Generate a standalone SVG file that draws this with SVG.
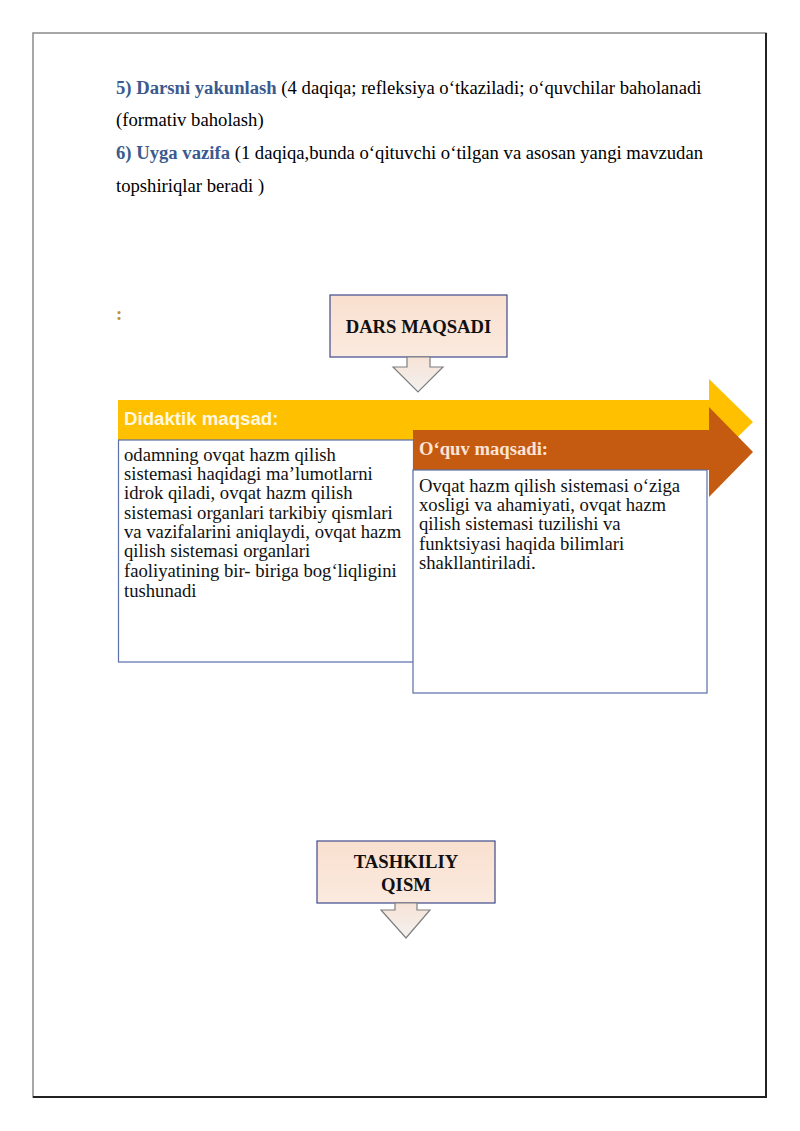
<svg xmlns="http://www.w3.org/2000/svg" width="800" height="1131" viewBox="0 0 800 1131">
<style>
.body{font-family:"Liberation Serif","Times New Roman",serif;font-size:18.67px;fill:#000}
.lbl{font-weight:bold;fill:#3B5A8E}
.box{font-family:"Liberation Serif","Times New Roman",serif;font-size:18.67px;fill:#111}
.node{fill:url(#peach);stroke:#3F4A8C;stroke-width:1.2}
.ntext{font-family:"Liberation Serif","Times New Roman",serif;font-size:18.67px;font-weight:bold;fill:#111;text-anchor:middle}
.down{fill:url(#pale);stroke:#7f7f7f;stroke-width:1.2}
.tbox{fill:#fff;stroke:#5B6FA8;stroke-width:1.2}
</style>
<defs>
<linearGradient id="peach" x1="0" y1="0" x2="0" y2="1">
<stop offset="0" stop-color="#F9E0CF"/><stop offset="1" stop-color="#FBEADF"/>
</linearGradient>
<linearGradient id="pale" x1="0" y1="0" x2="0" y2="1">
<stop offset="0" stop-color="#F7E3D6"/><stop offset="1" stop-color="#F3F1F0"/>
</linearGradient>
</defs>
<rect width="800" height="1131" fill="#fff"/>
<g id="page-border">
<rect x="33" y="33" width="733" height="1064" fill="none" stroke="#8a8a8a" stroke-width="1.5"/>
<path d="M766 33 V1097 H33" fill="none" stroke="#222" stroke-width="2"/>
</g>
<g id="intro-text" class="body">
<text x="116" y="94"><tspan class="lbl">5) Darsni yakunlash</tspan> (4 daqiqa; refleksiya o‘tkaziladi; o‘quvchilar baholanadi</text>
<text x="116" y="126">(formativ baholash)</text>
<text x="116" y="159"><tspan class="lbl">6) Uyga vazifa</tspan> (1 daqiqa,bunda o‘qituvchi o‘tilgan va asosan yangi mavzudan</text>
<text x="116" y="192">topshiriqlar beradi )</text>
<text x="116" y="320" fill="#C0902B" font-weight="bold">:</text>
</g>
<g id="dars-maqsadi">
<rect class="node" x="330" y="295" width="177" height="62"/>
<text class="ntext" x="418.5" y="333">DARS MAQSADI</text>
</g>
<g id="didaktik">
<path d="M118 400 H709 V379 L753 422 L709 465 V440 H118 Z" fill="#FFC000"/>
<rect class="tbox" x="118.5" y="440" width="295" height="222"/>
<text x="124" y="425" font-family="'Liberation Sans',Arial,sans-serif" font-size="18.67" font-weight="bold" fill="#FFF8E0">Didaktik maqsad:</text>
<g class="box">
<text x="124" y="461">odamning ovqat hazm qilish</text>
<text x="124" y="480">sistemasi haqidagi ma’lumotlarni</text>
<text x="124" y="499">idrok qiladi, ovqat hazm qilish</text>
<text x="124" y="519">sistemasi organlari tarkibiy qismlari</text>
<text x="124" y="538">va vazifalarini aniqlaydi, ovqat hazm</text>
<text x="124" y="557">qilish sistemasi organlari</text>
<text x="124" y="577">faoliyatining bir- biriga bog‘liqligini</text>
<text x="124" y="597">tushunadi</text>
</g>
</g>
<g id="oquv">
<path d="M413 430 H709 V407 L753 452 L709 497 V470 H413 Z" fill="#C55A11"/>
<rect class="tbox" x="413" y="470" width="294" height="223"/>
<text x="419" y="455" font-family="'Liberation Serif','Times New Roman',serif" font-size="18.67" font-weight="bold" fill="#FCE4D6">O‘quv maqsadi:</text>
<g class="box">
<text x="419" y="492">Ovqat hazm qilish sistemasi o‘ziga</text>
<text x="419" y="511">xosligi va ahamiyati, ovqat hazm</text>
<text x="419" y="530">qilish sistemasi tuzilishi va</text>
<text x="419" y="550">funktsiyasi haqida bilimlari</text>
<text x="419" y="569">shakllantiriladi.</text>
</g>
</g>
<g id="tashkiliy">
<rect class="node" x="317" y="841" width="178" height="62"/>
<text class="ntext" x="406" y="868">TASHKILIY</text>
<text class="ntext" x="406" y="891">QISM</text>
</g>
<g id="connectors">
<path class="down" d="M407 357 H430 V367 H443 L418 392 L393 367 H407 Z"/>
<path class="down" d="M395 903 H417 V910 H430 L406 938 L381 910 H395 Z"/>
</g>
</svg>
